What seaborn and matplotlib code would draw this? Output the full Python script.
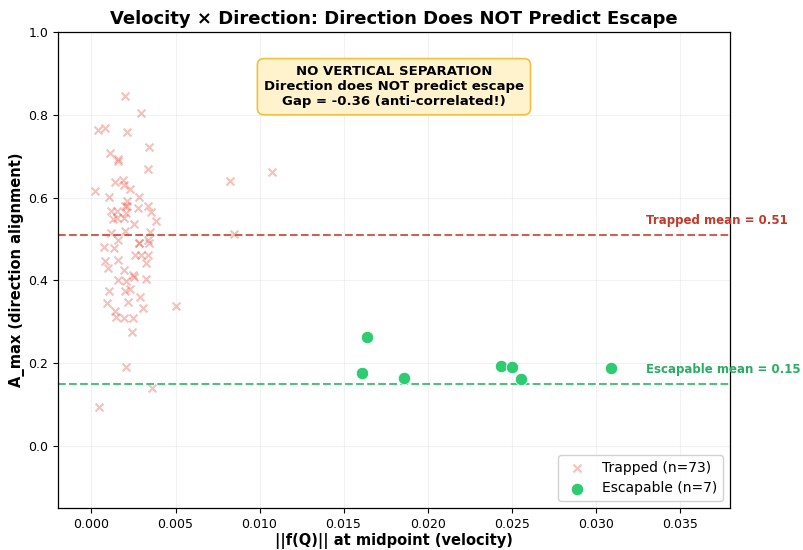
import matplotlib
matplotlib.use("Agg")
import matplotlib.pyplot as plt
import seaborn as sns
import pandas as pd

# Trapped states: velocity vs direction alignment
trapped_vel = [0.00200, 0.00292, 0.00036, 0.00082, 0.00212, 0.00341, 0.00109, 0.00159, 0.00159, 0.00339,
               0.00022, 0.00139, 0.00188, 0.00192, 0.00228, 0.00105, 0.00282, 0.00214, 0.00202, 0.00339,
               0.00278, 0.00115, 0.00149, 0.00357, 0.00204, 0.00129, 0.00192, 0.00252, 0.00381, 0.00351,
               0.00119, 0.00198, 0.00155, 0.00282, 0.00337, 0.00073, 0.00131,
               0.00258, 0.00293, 0.00337, 0.00079, 0.00155, 0.00323, 0.00099, 0.00194, 0.00248, 0.00250,
               0.00159, 0.00208, 0.00327, 0.00103, 0.00198, 0.00228, 0.00288, 0.00091, 0.00218, 0.00304,
               0.00139, 0.00145, 0.00192, 0.00248,
               0.00242, 0.00208, 0.00361, 0.00044,
               0.00827, 0.01073, 0.00851, 0.00500,
               0.00210, 0.00340, 0.00280, 0.00150]
trapped_amax = [0.846, 0.804, 0.762, 0.767, 0.759, 0.723, 0.708, 0.694, 0.688, 0.669,
                0.615, 0.638, 0.643, 0.631, 0.621, 0.602, 0.602, 0.591, 0.580, 0.580,
                0.575, 0.567, 0.568, 0.564, 0.563, 0.547, 0.551, 0.535, 0.543, 0.516,
                0.514, 0.519, 0.498, 0.490, 0.497, 0.480, 0.478,
                0.461, 0.461, 0.461, 0.446, 0.449, 0.442, 0.430, 0.426, 0.412, 0.408,
                0.400, 0.398, 0.402, 0.375, 0.374, 0.380, 0.360, 0.345, 0.347, 0.333,
                0.325, 0.311, 0.309, 0.309,
                0.275, 0.191, 0.140, 0.093,
                0.640, 0.661, 0.512, 0.339,
                0.580, 0.490, 0.490, 0.550]

# Escapable states
escape_vel = [0.01639, 0.01607, 0.01859, 0.02435, 0.02500, 0.02556, 0.03093]
escape_amax = [0.263, 0.177, 0.1635, 0.193, 0.1916, 0.161, 0.1876]

trapped_mean = 0.51
escape_mean = 0.15
gap = -0.36

trapped_color = "#e74c3c"
escape_color = "#2ecc71"

sns.set_style("ticks")
plt.rcParams['font.family'] = ['DejaVu Sans']
plt.rcParams.update({
    "text.color": "black", "axes.labelcolor": "black",
    "xtick.color": "black", "ytick.color": "black",
    "xtick.major.size": 3.5, "ytick.major.size": 3.5,
    "xtick.major.pad": 3.5, "ytick.major.pad": 3.5,
})

fig = plt.figure(figsize=(8.04, 5.5), dpi=100)
ax = fig.add_axes([0.072, 0.0764, 0.836, 0.8655])

df_t = pd.DataFrame({"vel": trapped_vel, "amax": trapped_amax})
df_e = pd.DataFrame({"vel": escape_vel, "amax": escape_amax})

sns.scatterplot(data=df_t, x="vel", y="amax", ax=ax, marker="x", s=32, color=trapped_color,
                alpha=0.35, linewidth=1.5, label=f"Trapped (n={len(trapped_vel)})", zorder=3)
sns.scatterplot(data=df_e, x="vel", y="amax", ax=ax, marker="o", s=80, color=escape_color,
                edgecolor="white", linewidth=0.6, label=f"Escapable (n={len(escape_vel)})", zorder=4)

ax.axhline(trapped_mean, color="#c0392b", linestyle="--", linewidth=1.5, alpha=0.8, zorder=2)
ax.axhline(escape_mean, color="#27ae60", linestyle="--", linewidth=1.5, alpha=0.8, zorder=2)

ax.text(0.0330, trapped_mean + 0.02, f"Trapped mean = {trapped_mean:.2f}", color="#c0392b",
        fontsize=8.5, fontweight="bold", va="bottom", ha="left", clip_on=False)
ax.text(0.0330, escape_mean + 0.02, f"Escapable mean = {escape_mean:.2f}", color="#27ae60",
        fontsize=8.5, fontweight="bold", va="bottom", ha="left", clip_on=False)

ax.text(0.5, 0.885,
        f"NO VERTICAL SEPARATION\nDirection does NOT predict escape\nGap = {gap:.2f} (anti-correlated!)",
        transform=ax.transAxes, ha="center", va="center", fontsize=9.5, fontweight="bold",
        bbox=dict(boxstyle="round,pad=0.5", facecolor="#fff3cd", edgecolor="#f0c040", linewidth=1.2))

ax.set_xlim(-0.002, 0.038)
ax.set_ylim(-0.15, 1.0)
xt = [0.000, 0.005, 0.010, 0.015, 0.020, 0.025, 0.030, 0.035]
ax.set_xticks(xt)
ax.set_xticklabels([f"{v:.3f}" for v in xt])
ax.set_yticks([0.0, 0.2, 0.4, 0.6, 0.8, 1.0])
ax.tick_params(labelsize=9)
ax.grid(True, alpha=0.25)
for sp in ax.spines.values():
    sp.set_visible(True)
    sp.set_color("black")
    sp.set_linewidth(0.9)

ax.set_xlabel("||f(Q)|| at midpoint (velocity)", fontsize=10.5, fontweight="bold", labelpad=1.5)
ax.set_ylabel("A_max (direction alignment)", fontsize=10.5, fontweight="bold", labelpad=2)
ax.set_title("Velocity × Direction: Direction Does NOT Predict Escape", fontsize=13, fontweight="bold")
ax.legend(loc="lower right", fontsize=10, framealpha=0.9)

fig.savefig("out.png", dpi=100)
